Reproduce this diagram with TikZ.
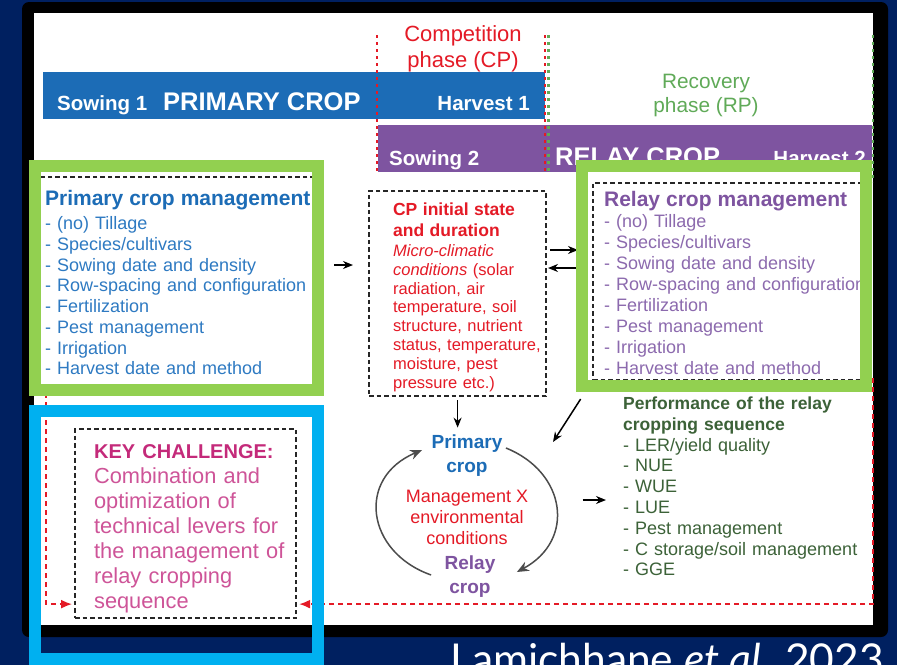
\documentclass[tikz,border=0pt]{standalone}
\usepackage{fontspec}
\setmainfont{Liberation Sans}
\newfontfamily\citefont{Lato}
\usetikzlibrary{positioning}
\usetikzlibrary{calc}
\usetikzlibrary{arrows.meta}

\definecolor{navy}{RGB}{0,32,96}
\definecolor{primblue}{RGB}{28,108,182}
\definecolor{itemblue}{RGB}{46,122,194}
\definecolor{relpurple}{RGB}{126,84,160}
\definecolor{itempurple}{RGB}{140,106,174}
\definecolor{framegreen}{RGB}{146,208,80}
\definecolor{framecyan}{RGB}{0,176,240}
\definecolor{cpred}{RGB}{228,26,38}
\definecolor{rpgreen}{RGB}{96,170,88}
\definecolor{perfgreen}{RGB}{60,98,56}
\definecolor{keypink}{RGB}{196,42,122}
\definecolor{keylight}{RGB}{206,84,152}

\newcommand{\itm}[1]{\mbox{- #1}}
\newcommand{\topstrut}[1]{\rule{0pt}{#1}}

\tikzset{
  bartext/.style={text=white, inner sep=0pt, font=\bfseries\fontsize{20.5}{24}\selectfont},
  bigbartext/.style={text=white, inner sep=0pt, font=\bfseries\fontsize{25.5}{29}\selectfont},
  dashbox/.style={draw=black!85, line width=2.2pt, dash pattern=on 4.5pt off 3pt, align=left, anchor=north west},
  phaseline/.style={line width=2.5pt, dash pattern=on 3pt off 4pt},
  reddash/.style={cpred, line width=1.6pt, dash pattern=on 5pt off 4pt, >={Latex[length=11pt, width=9pt]}},
  cyc/.style={draw=black!70, line width=1.5pt, >={Stealth[length=12pt, width=10pt]}},
  frame/.style={line width=12pt}
}

\begin{document}
\begin{tikzpicture}[x=1pt, y=-1pt, >={Stealth[length=10pt, width=8pt]}]
\useasboundingbox (0,0) rectangle (897,665);
\clip (0,0) rectangle (897,665);
\fill[navy] (0,0) rectangle (897,665);
\fill[black, rounded corners=7pt] (22,2) rectangle (888,637);
\fill[white] (34,13) rectangle (873,625);

% crop bars
\fill[primblue] (43,72) rectangle (545,119);
\fill[relpurple] (378,125) rectangle (872,172);
\node[bartext, anchor=base west] (sow1) at (57,110) {Sowing 1};
\node[bigbartext, anchor=base west] (primlabel) at (163,110) {PRIMARY CROP};
\node[bartext, anchor=base east] (harv1) at (530,110) {Harvest 1};
\node[bartext, anchor=base west] (sow2) at (389,165) {Sowing 2};
\node[bigbartext, anchor=base west] (rellabel) at (555,165) {RELAY CROP};
\node[bartext, anchor=base east] (harv2) at (866,165) {Harvest 2};

% phases
\draw[cpred, phaseline] (377,35) -- (377,172);
\draw[cpred, phaseline] (545,35) -- (545,172);
\draw[rpgreen, phaseline] (548.5,35) -- (548.5,172);
\draw[rpgreen, phaseline] (873,35) -- (873,182);
\node[text=cpred, align=center, anchor=north, inner sep=0pt, font=\fontsize{22}{26}\selectfont] (cplabel) at (463,25) {Competition\\phase (CP)};
\node[text=rpgreen, align=center, anchor=north, inner sep=0pt, font=\fontsize{20.8}{24}\selectfont] (rplabel) at (706,74) {Recovery\\phase (RP)};

% boxes
\node[dashbox, text=itemblue, text width=268pt, inner xsep=6pt, inner ysep=13pt, font=\fontsize{18}{20.7}\selectfont] (primgmt) at (38,176)
  {\mbox{\color{primblue}\bfseries\fontsize{21}{24}\selectfont\topstrut{15pt}Primary crop management}\\[3.8pt]
   \itm{(no) Tillage}\\ \itm{Species/cultivars}\\ \itm{Sowing date and density}\\
   \itm{Row-spacing and configuration}\\ \itm{Fertilization}\\ \itm{Pest management}\\
   \itm{Irrigation}\\ \itm{Harvest date and method}};
\node[dashbox, text=itempurple, text width=254pt, inner xsep=11pt, inner ysep=5.5pt, font=\fontsize{18}{21}\selectfont] (relmgmt) at (592,182)
  {\mbox{\color{relpurple}\bfseries\fontsize{21}{24}\selectfont\topstrut{18pt}Relay crop management}\\
   \itm{(no) Tillage}\\ \itm{Species/cultivars}\\ \itm{Sowing date and density}\\
   \itm{Row-spacing and configuration}\\ \itm{Fertilization}\\ \itm{Pest management}\\
   \itm{Irrigation}\\ \itm{Harvest date and method}};
\node[dashbox, text=cpred, text width=129pt, inner xsep=24pt, inner ysep=4pt, font=\fontsize{16.5}{18.9}\selectfont] (cpbox) at (368,190)
  {{\bfseries\fontsize{17.5}{21}\selectfont\topstrut{20.3pt}CP initial state\\[2pt] and duration}\\[1pt]
   \textit{Micro-climatic}\\ \mbox{\textit{conditions} (solar}\\ radiation, air\\ \mbox{temperature, soil}\\
   \mbox{structure, nutrient}\\ \mbox{status, temperature,}\\ \mbox{moisture, pest}\\ \mbox{pressure etc.)}};
\node[dashbox, text=keylight, text width=183pt, inner xsep=19pt, inner ysep=5.4pt, font=\fontsize{21.8}{25}\selectfont] (keybox) at (74,428)
  {\mbox{\color{keypink}\bfseries\fontsize{20}{24}\selectfont\topstrut{23.6pt}KEY CHALLENGE:}\\
   Combination and\\ optimization of\\ \mbox{technical levers for}\\ \mbox{the management of}\\
   relay cropping\\ sequence};

% cycle in the middle
\node[text=primblue, align=center, font=\bfseries\fontsize{19}{24}\selectfont] (primloop) at (467,456) {Primary\\crop};
\node[text=cpred, align=center, font=\fontsize{18}{21}\selectfont] (mxe) at (467,517) {Management X\\environmental\\conditions};
\node[text=relpurple, align=center, font=\bfseries\fontsize{19}{24}\selectfont] (relloop) at (470,577) {Relay\\crop};
\draw[cyc, ->] ($(relloop.west)+(-10,-2)$) .. controls (366,552) and (356,478) .. ($(primloop.west)+(-6,-6)$);
\draw[cyc, ->] ($(primloop.east)+(0,-8)$) .. controls (566,472) and (576,540) .. ($(relloop.east)+(18,-5)$);

\node[anchor=north west, inner sep=0pt, align=left, text width=262pt, text=perfgreen, font=\fontsize{18}{20.8}\selectfont] (perf) at (623,393.3)
  {{\bfseries\fontsize{17.5}{21}\selectfont\topstrut{16pt}Performance of the relay\\ cropping sequence}\\
   - LER/yield quality\\ - NUE\\ - WUE\\ - LUE\\ - Pest management\\ \itm{C storage/soil management}\\ - GGE};

% arrows
\coordinate (cpin) at (353,265);
\coordinate (relin) at (578,250);
\coordinate (cpback) at (548,268);
\coordinate (looptip) at (553,442);
\coordinate (perfin) at (606,500);
\draw[->, line width=1.5pt, shorten <=14pt] (primgmt.east |- cpin) -- (cpin);
\draw[->, line width=1.5pt, shorten <=3pt] (cpbox.east |- relin) -- (relin);
\draw[->, line width=1.5pt, shorten <=14pt] (relmgmt.west |- cpback) -- (cpback);
\draw[->, line width=1.5pt, shorten <=3pt, shorten >=4pt] (cpbox.south) -- (cpbox.south |- primloop.north);
\draw[->, line width=1.5pt, shorten <=21pt] (relmgmt.south west) -- (looptip);
\draw[->, line width=1.5pt] (mxe.east |- perfin) ++(51,0) -- (perfin);

% feedback to the key challenge
\draw[reddash, ->] (873,378) |- ($(keybox.south east)+(2,-15)$);
\draw[reddash, ->] (46,384) |- ($(keybox.south west)+(-2,-15)$);

% highlight frames
\draw[framegreen, frame] (35,166) rectangle (318,390);
\draw[framegreen, frame] (582,166) rectangle (866,386);
\draw[framecyan, frame] (35,411) rectangle (318,659);

\node[text=white, anchor=base west, inner sep=0pt, font=\citefont\fontsize{42.5}{45}\selectfont] (cite) at (450,674) {Lamichhane \textit{et al.} 2023};
\end{tikzpicture}
\end{document}
